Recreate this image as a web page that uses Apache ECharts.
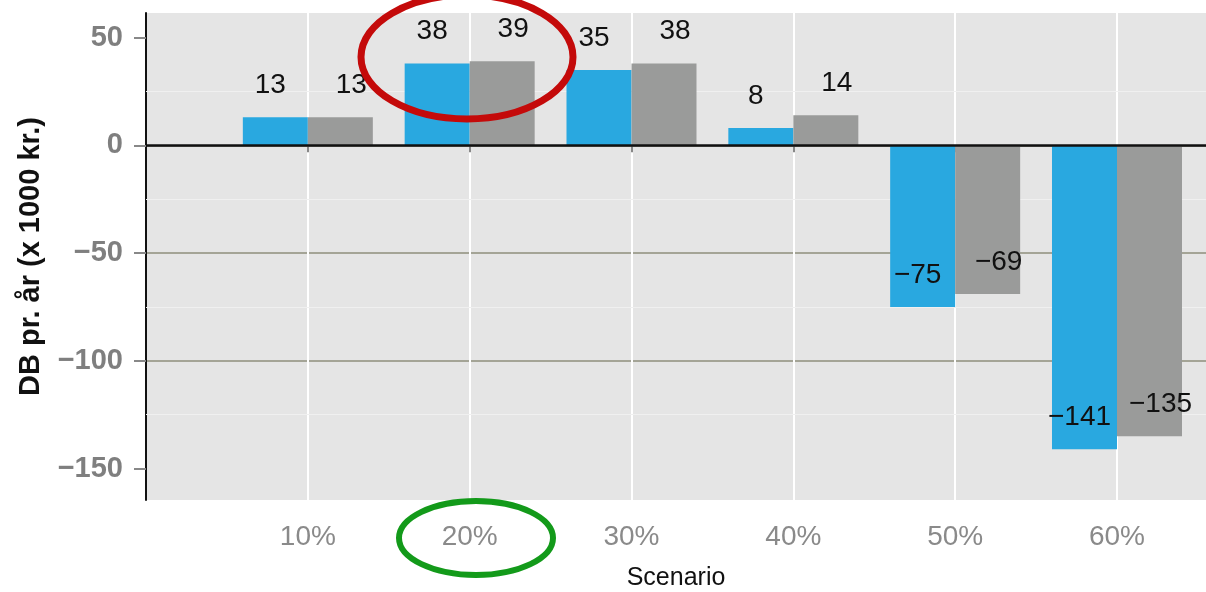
<!DOCTYPE html>
<html>
<head>
<meta charset="utf-8">
<script src="https://cdn.jsdelivr.net/npm/echarts@6/dist/echarts.min.js"></script>
<style>
  html, body { margin: 0; padding: 0; background: #fff; }
  #chart { width: 1206px; height: 592px; }
</style>
</head>
<body>
<div id="chart"></div>
<script>
// scenarios (x, in %) and the two bar series
var scenarios = [10, 20, 30, 40, 50, 60];
var blueValues = [13, 38, 35, 8, -75, -141];
var greyValues = [13, 39, 38, 14, -69, -135];
var yTicks = [-150, -100, -50, 0, 50];
var yMinor = [-125, -75, -25, 25];

var FONT = 'Liberation Sans, Arial, sans-serif';
var chart = echarts.init(document.getElementById('chart'));

// label sits ~32px above the end of each bar
function barData(values, dx) {
    return values.map(function (v, i) {
        return {
            value: [scenarios[i], v],
            label: {
                position: v >= 0 ? 'top' : 'insideBottom',
                distance: 0,
                offset: [dx, -18]
            }
        };
    });
}

var labelStyle = {
    show: true,
    color: '#111',
    fontSize: 28,
    fontFamily: FONT,
    formatter: function (p) { return String(p.value[1]).replace('-', '\u2212'); }
};

var option = {
    animation: false,
    grid: {
        left: 146, right: 0, top: 13, bottom: 92,
        outerBoundsMode: 'none',
        containLabel: false,
        show: true, backgroundColor: '#e5e5e5', borderWidth: 0
    },
    xAxis: {
        type: 'value',
        min: 0,
        max: 65.5,
        name: 'Scenario',
        nameLocation: 'middle',
        nameGap: 66,
        nameTextStyle: { color: '#111', fontSize: 25, fontFamily: FONT },
        axisLine: { show: false },
        axisTick: { show: true, length: 7, customValues: scenarios, lineStyle: { color: '#888', width: 2 } },
        axisLabel: {
            customValues: scenarios,
            margin: 23,
            color: '#8a8a8a',
            fontSize: 28,
            fontFamily: FONT,
            formatter: function (v) { return v + '%'; }
        },
        splitLine: { show: true, lineStyle: { color: '#ffffff', width: 2 } }
    },
    yAxis: {
        type: 'value',
        min: -164.6,
        max: 61.4,
        name: 'DB pr. år (x 1000 kr.)',
        nameLocation: 'middle',
        nameGap: 101,
        nameTextStyle: { color: '#111', fontSize: 29, fontWeight: 'bold', fontFamily: FONT },
        axisLine: { show: true, lineStyle: { color: '#111', width: 2 } },
        axisTick: { show: true, length: 12, customValues: yTicks, lineStyle: { color: '#888', width: 2 } },
        axisLabel: {
            customValues: yTicks,
            margin: 23,
            color: '#7f7f7f',
            fontSize: 29,
            fontWeight: 'bold',
            fontFamily: FONT,
            formatter: function (v) { return String(v).replace('-', '\u2212'); }
        },
        splitLine: { show: true, showMinLine: false, showMaxLine: false, lineStyle: { color: '#a4a496', width: 2 } }
    },
    series: [
        {
            // minor grid lines, under the bars
            type: 'line',
            data: [],
            z: 1,
            silent: true,
            markLine: {
                z: 1,
                silent: true,
                symbol: 'none',
                label: { show: false },
                lineStyle: { color: '#f0f0f0', width: 1, type: 'solid' },
                data: yMinor.map(function (v) { return { yAxis: v }; })
            }
        },
        {
            name: 'A',
            type: 'bar',
            barWidth: 65,
            barGap: '0%',
            itemStyle: { color: '#29a8e0' },
            label: labelStyle,
            data: barData(blueValues, -5),
            markLine: {
                silent: true,
                symbol: 'none',
                label: { show: false },
                lineStyle: { color: '#111', width: 2.5, type: 'solid' },
                data: [{ yAxis: 0 }]
            }
        },
        {
            name: 'B',
            type: 'bar',
            barWidth: 65,
            barGap: '0%',
            itemStyle: { color: '#9a9b9a' },
            label: labelStyle,
            data: barData(greyValues, 11)
        }
    ],
    graphic: [
        {
            type: 'ellipse',
            shape: { cx: 467, cy: 57, rx: 106, ry: 62 },
            style: { fill: 'none', stroke: '#c40a0a', lineWidth: 7 },
            z: 100
        },
        {
            type: 'ellipse',
            shape: { cx: 476, cy: 538, rx: 77, ry: 37 },
            style: { fill: 'none', stroke: '#139a1a', lineWidth: 6 },
            z: 100
        }
    ]
};

chart.setOption(option);
window.addEventListener('resize', function () { chart.resize(); });
</script>
</body>
</html>
